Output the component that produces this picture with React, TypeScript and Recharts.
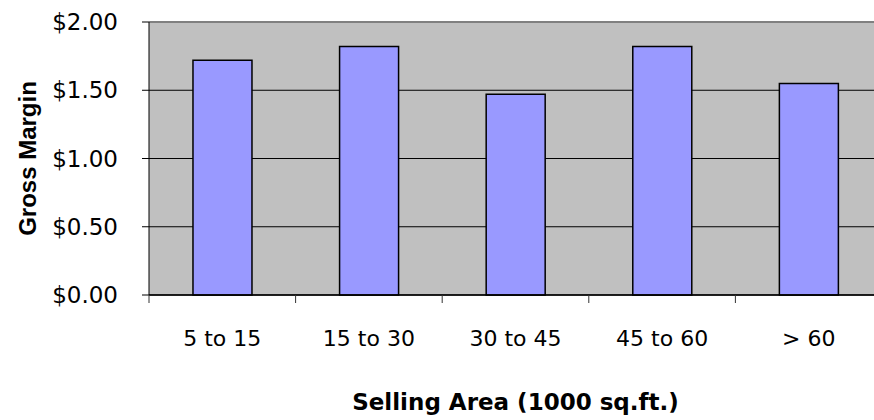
import React from 'react';
import {
  BarChart,
  Bar,
  XAxis,
  YAxis,
  CartesianGrid,
  ReferenceLine,
} from 'recharts';

const categories = ['5 to 15', '15 to 30', '30 to 45', '45 to 60', '> 60'];
const grossMargin = [1.72, 1.82, 1.47, 1.82, 1.55];
const yTicks = [0, 0.5, 1, 1.5, 2];

const data = categories.map((area, i) => ({ area, margin: grossMargin[i] }));

const tickFont = "'DejaVu Sans', Verdana, sans-serif";
const comicFont = "'Comic Sans MS', 'DejaVu Sans', sans-serif";

const X_TICK_SIZE = 0;
const X_TICK_MARGIN = 35;

// Category label plus the tick mark on the left edge of its band (Excel style)
const CategoryTick = (props: any) => {
  const { x, y, payload } = props;
  const half = payload?.offset ?? 0;
  const axisY = y - X_TICK_SIZE - X_TICK_MARGIN;
  return (
    <g>
      <line
        x1={x - half}
        x2={x - half}
        y1={axisY}
        y2={axisY + 8}
        stroke="#333"
        strokeWidth={1}
      />
      <text
        x={x}
        y={y}
        dy="0.71em"
        textAnchor="middle"
        fill="#000"
        fontSize={22}
        fontFamily={comicFont}
      >
        {payload.value}
      </text>
    </g>
  );
};

export default function App() {
  return (
    <div
      style={{
        position: 'absolute',
        left: 0,
        top: 0,
        width: 874,
        height: 420,
        overflow: 'hidden',
        background: '#fff',
      }}
    >
      <BarChart
        width={890}
        height={420}
        data={data}
        margin={{ top: 22, right: 8, left: 0, bottom: 0 }}
        barCategoryGap="30%"
      >
        <CartesianGrid
          vertical={false}
          stroke="#000"
          fill="#C0C0C0"
          fillOpacity={1}
        />

        <XAxis
          dataKey="area"
          height={125}
          axisLine={{ stroke: '#000', strokeWidth: 1.5 }}
          tickLine={false}
          tickSize={X_TICK_SIZE}
          tickMargin={X_TICK_MARGIN}
          interval={0}
          tick={<CategoryTick />}
          label={{
            value: 'Selling Area (1000 sq.ft.)',
            position: 'insideBottom',
            offset: 10,
            fill: '#000',
            fontSize: 23,
            fontWeight: 'bold',
            fontFamily: comicFont,
          }}
        />

        <YAxis
          width={149}
          domain={[0, 2]}
          ticks={yTicks}
          axisLine={{ stroke: '#000' }}
          tickLine={{ stroke: '#000' }}
          tickSize={7}
          tickMargin={24}
          tick={{ fill: '#000', fontSize: 23, fontFamily: tickFont }}
          tickFormatter={(v: number) => `$${v.toFixed(2)}`}
          label={{
            value: 'Gross Margin',
            angle: -90,
            position: 'insideLeft',
            offset: 27,
            fill: '#000',
            fontSize: 24,
            fontWeight: 'bold',
            fontFamily: "'Liberation Sans', Arial, sans-serif",
            style: { textAnchor: 'middle' },
          }}
        />

        <Bar
          dataKey="margin"
          fill="#9999FF"
          stroke="#000"
          strokeWidth={1.5}
          isAnimationActive={false}
        />

        {/* plot area top border */}
        <ReferenceLine y={2} stroke="#808080" strokeWidth={2} />
      </BarChart>
    </div>
  );
}
